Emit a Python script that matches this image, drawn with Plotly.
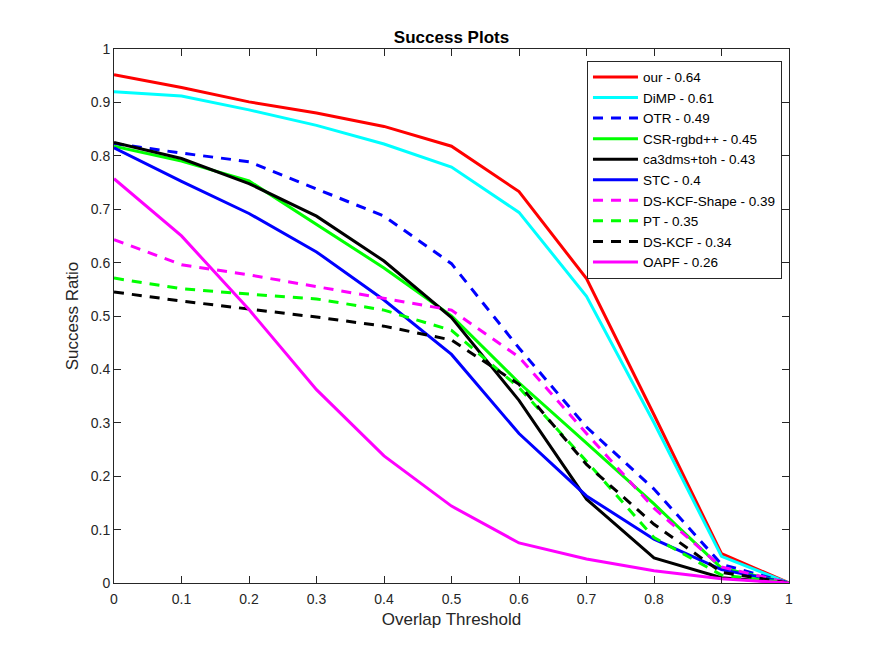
# Success Plots - curvas de sucesso dos trackers

# %% Bibliotecas
import plotly.graph_objects as go

# %% Dados
thresholds = [0, 0.1, 0.2, 0.3, 0.4, 0.5, 0.6, 0.7, 0.8, 0.9, 1.0]

our        = [0.952, 0.928, 0.901, 0.880, 0.855, 0.818, 0.733, 0.570, 0.315, 0.055, 0.0]
dimp       = [0.920, 0.912, 0.886, 0.857, 0.822, 0.779, 0.694, 0.537, 0.300, 0.050, 0.0]
otr        = [0.823, 0.805, 0.789, 0.738, 0.687, 0.598, 0.440, 0.292, 0.176, 0.035, 0.0]
csr_rgbd   = [0.818, 0.790, 0.753, 0.672, 0.590, 0.500, 0.375, 0.262, 0.148, 0.028, 0.0]
ca3dms     = [0.825, 0.795, 0.748, 0.687, 0.603, 0.497, 0.342, 0.157, 0.047, 0.010, 0.0]
stc        = [0.815, 0.752, 0.692, 0.620, 0.530, 0.428, 0.280, 0.163, 0.082, 0.025, 0.0]
dskcf_shape= [0.643, 0.596, 0.577, 0.555, 0.532, 0.511, 0.423, 0.280, 0.140, 0.030, 0.0]
pt         = [0.571, 0.551, 0.541, 0.532, 0.511, 0.473, 0.366, 0.228, 0.085, 0.015, 0.0]
dskcf      = [0.545, 0.528, 0.513, 0.498, 0.481, 0.455, 0.372, 0.222, 0.110, 0.020, 0.0]
oapf       = [0.757, 0.650, 0.512, 0.362, 0.238, 0.144, 0.075, 0.045, 0.023, 0.008, 0.0]

nomes = ["our - 0.64", "DiMP - 0.61", "OTR - 0.49", "CSR-rgbd++ - 0.45", "ca3dms+toh - 0.43",
         "STC - 0.4", "DS-KCF-Shape - 0.39", "PT - 0.35", "DS-KCF - 0.34", "OAPF - 0.26"]
series = [our, dimp, otr, csr_rgbd, ca3dms, stc, dskcf_shape, pt, dskcf, oapf]
cores = ["#FF0000", "#00FFFF", "#0000FF", "#00FF00", "#000000",
         "#0000FF", "#FF00FF", "#00FF00", "#000000", "#FF00FF"]
estilos = ["solid", "solid", "10px,8px", "solid", "solid",
           "solid", "10px,8px", "10px,8px", "10px,8px", "solid"]

# %% Plot
fig = go.Figure()

for nome, y, cor, estilo in zip(nomes, series, cores, estilos):
    fig.add_trace(go.Scatter(x=thresholds, y=y, name=nome, mode="lines",
                             line=dict(color=cor, width=3, dash=estilo)))

eixo = dict(showline=True, linecolor="#262626", linewidth=1, mirror="ticks",
            ticks="inside", ticklen=7, tickcolor="#262626", showgrid=False,
            zeroline=False, automargin=False, tickformat=".1~f",
            tickfont=dict(size=14, color="#262626"))

# a página tem 8px de margem no body, então compensa aqui
fig.update_layout(
    width=872, height=654,
    paper_bgcolor="white", plot_bgcolor="white",
    font=dict(family="Liberation Sans, Arial, sans-serif", color="#262626"),
    margin=dict(l=106, r=91, t=41, b=79),
    title=dict(text="<b>Success Plots</b>", x=(106 + 675 / 2) / 872, xanchor="center",
               y=1 - 29 / 654, yanchor="middle", font=dict(size=17, color="black")),
    xaxis=dict(eixo, range=[0, 1], dtick=0.1, ticklabelstandoff=3,
               title=dict(text="Overlap Threshold", font=dict(size=17), standoff=7)),
    yaxis=dict(eixo, range=[0, 1], dtick=0.1,
               title=dict(text="Success Ratio", font=dict(size=17), standoff=7)),
    legend=dict(x=0.9896, y=0.978, xanchor="right", yanchor="top",
                bgcolor="white", bordercolor="#262626", borderwidth=1,
                font=dict(size=13.5, color="black"), tracegroupgap=0,
                itemwidth=45),
    showlegend=True,
)

fig.write_html("out.html")
